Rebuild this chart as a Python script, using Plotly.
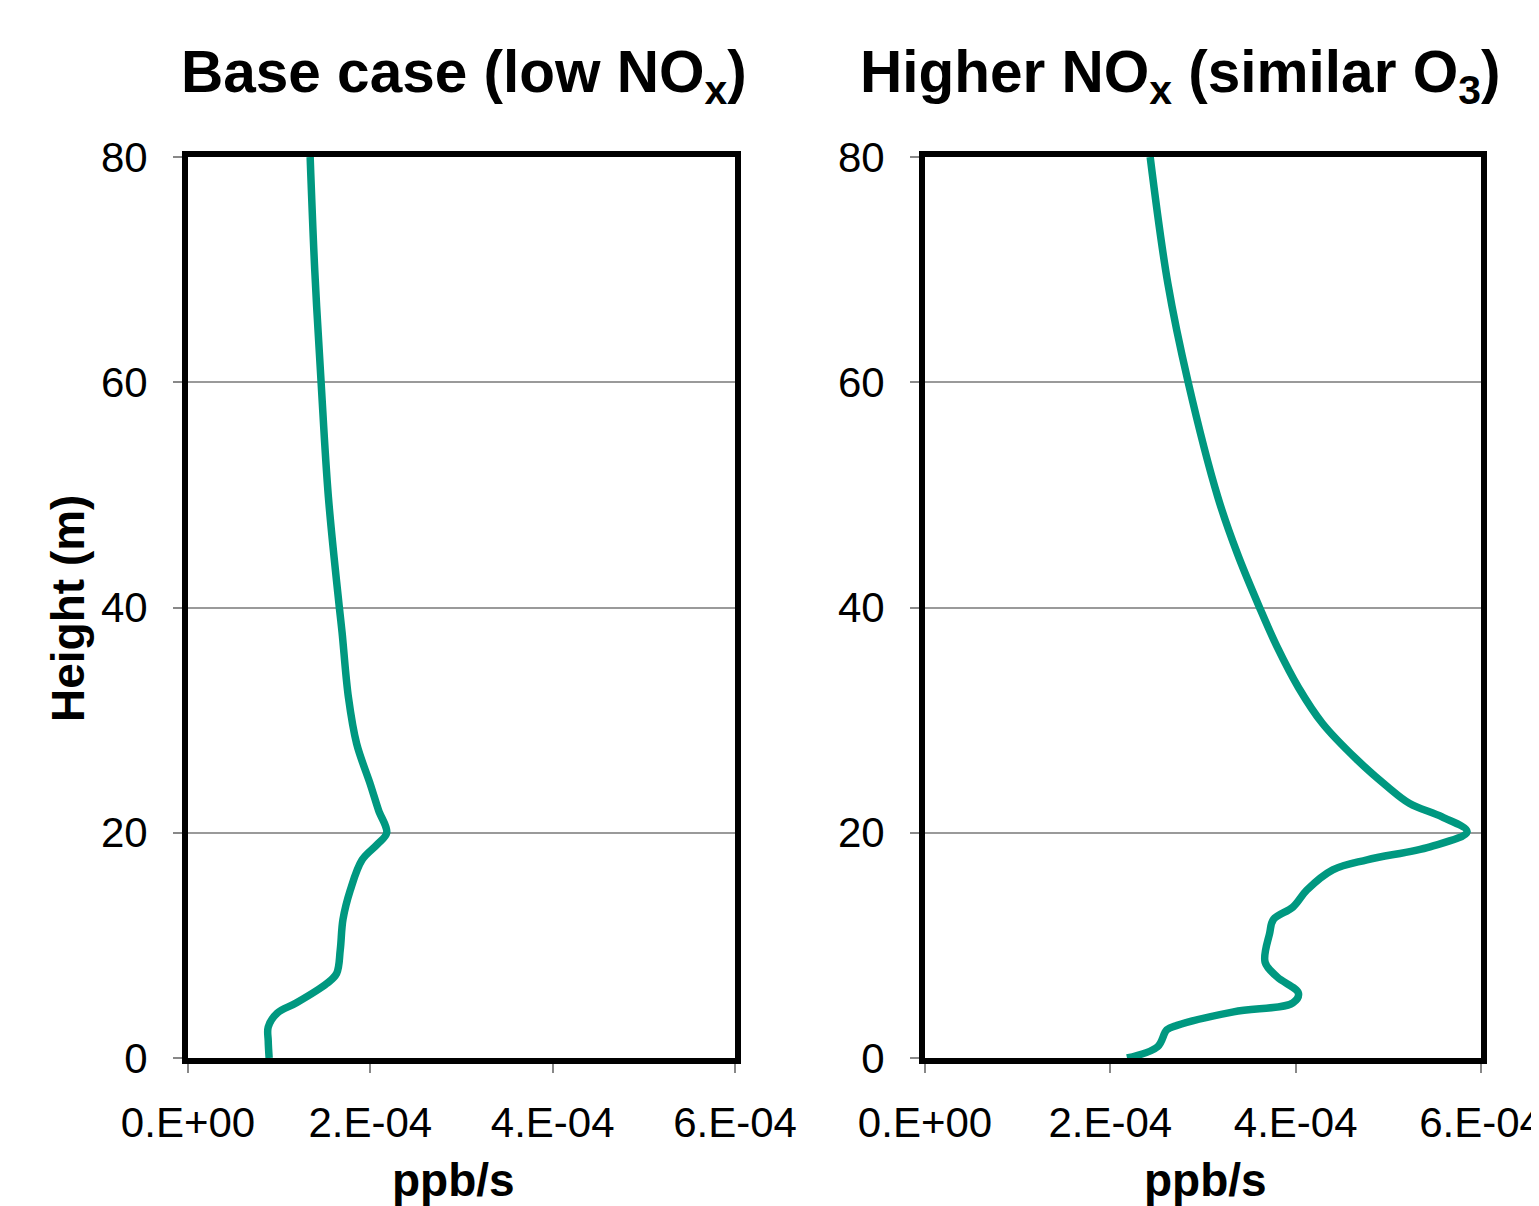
import plotly.graph_objects as go

# ---- data (x in ppb/s, y in m) ----
base_height = [0, 1.5, 2.75, 4.0, 4.9, 6.6, 7.5, 9.6, 12.3, 14.9, 17.6, 19.0, 20.0, 22.0, 24.3, 27.9, 32.0, 37.8,
               40.0, 49.8, 60.0, 70.0, 80.0]
base_rate = [0.89e-4, 0.88e-4, 0.88e-4, 0.98e-4, 1.19e-4, 1.52e-4, 1.63e-4, 1.67e-4, 1.70e-4, 1.78e-4, 1.91e-4,
             2.08e-4, 2.18e-4, 2.09e-4, 2.00e-4, 1.85e-4, 1.76e-4, 1.69e-4, 1.66e-4, 1.54e-4, 1.46e-4, 1.39e-4,
             1.34e-4]

high_height = [0, 1.0, 2.5, 2.9, 4.1, 4.9, 5.75, 7.2, 8.5, 11.1, 12.3, 13.4, 14.9, 16.7, 17.6, 18.75, 20.1, 21.4, 22.6,
               24.1, 26.5, 29.7, 32.9, 36.5, 40.0, 44.8, 49.8, 60.0, 68.8, 80.0]
high_rate = [2.18e-4, 2.51e-4, 2.61e-4, 2.72e-4, 3.33e-4, 3.97e-4, 4.03e-4, 3.80e-4, 3.67e-4, 3.72e-4, 3.76e-4, 3.97e-4,
             4.12e-4, 4.40e-4, 4.77e-4, 5.45e-4, 5.85e-4, 5.58e-4, 5.23e-4, 4.99e-4, 4.66e-4, 4.29e-4, 4.03e-4, 3.80e-4,
             3.61e-4, 3.37e-4, 3.16e-4, 2.84e-4, 2.62e-4, 2.43e-4]

x_tickvals = [0, 2e-4, 4e-4, 6e-4]
x_ticktext = ["0.E+00", "2.E-04", "4.E-04", "6.E-04"]
y_tickvals = [0, 20, 40, 60, 80]

titles = ["Base case (low NO<sub>x</sub>)", "Higher NO<sub>x</sub> (similar O<sub>3</sub>)"]

OFF = 8  # page body margin
W, H = 1539 - OFF, 1206 - OFF
FONT = "Liberation Sans, Arial, sans-serif"
TEAL = "#009880"


def px(p):
    return (p - OFF) / W


def py(p):
    return 1 - (p - OFF) / H


fig = go.Figure()
fig.add_trace(go.Scatter(x=base_rate, y=base_height, mode="lines", xaxis="x", yaxis="y",
                         line=dict(color=TEAL, width=7.5, shape="spline", smoothing=1.0), showlegend=False))
fig.add_trace(go.Scatter(x=high_rate, y=high_height, mode="lines", xaxis="x2", yaxis="y2",
                         line=dict(color=TEAL, width=7.5, shape="spline", smoothing=1.0), showlegend=False))

ydom = [py(1058), py(157)]
xdoms = [[px(188), px(735)], [px(925), px(1481)]]

xcommon = dict(range=[0, 6e-4], tickvals=x_tickvals, ticktext=x_ticktext, showgrid=False, zeroline=False,
               showline=True, linecolor="black", linewidth=6, mirror=True, ticks="outside", ticklen=9,
               tickcolor="#888888", tickwidth=1.5, tickfont=dict(family=FONT, size=42, color="black"),
               ticklabelstandoff=14, automargin=False, ticklabeloverflow="allow")
ycommon = dict(range=[0, 80], tickvals=y_tickvals, showgrid=True, gridcolor="#9a9a9a", gridwidth=1.5,
               zeroline=False, showline=True, linecolor="black", linewidth=6, mirror=True, ticks="outside",
               ticklen=9, tickcolor="#888888", tickwidth=1.5, tickfont=dict(family=FONT, size=42, color="black"),
               domain=ydom, ticklabelstandoff=17, automargin=False)

fig.update_layout(
    width=W, height=H, autosize=False,
    margin=dict(l=0, r=0, t=0, b=0, pad=0),
    paper_bgcolor="white", plot_bgcolor="white",
    xaxis=dict(domain=xdoms[0], anchor="y", **xcommon),
    yaxis=dict(anchor="x", **ycommon),
    xaxis2=dict(domain=xdoms[1], anchor="y2", **xcommon),
    yaxis2=dict(anchor="x2", **ycommon),
)

anns = []
for tx, t in zip([464, 1180], titles):
    anns.append(dict(text="<b>" + t + "</b>", x=px(tx), y=py(76), xref="paper", yref="paper",
                     xanchor="center", yanchor="middle", showarrow=False,
                     font=dict(family=FONT, size=58.5, color="black")))
for cx in [453, 1205]:
    anns.append(dict(text="<b>ppb/s</b>", x=px(cx), y=py(1180), xref="paper", yref="paper",
                     xanchor="center", yanchor="middle", showarrow=False,
                     font=dict(family=FONT, size=46, color="black")))
anns.append(dict(text="<b>Height (m)</b>", x=px(68), y=py(609), xref="paper", yref="paper",
                 xanchor="center", yanchor="middle", showarrow=False, textangle=-90,
                 font=dict(family=FONT, size=46, color="black")))
fig.update_layout(annotations=anns)

fig.write_html("out.html")
